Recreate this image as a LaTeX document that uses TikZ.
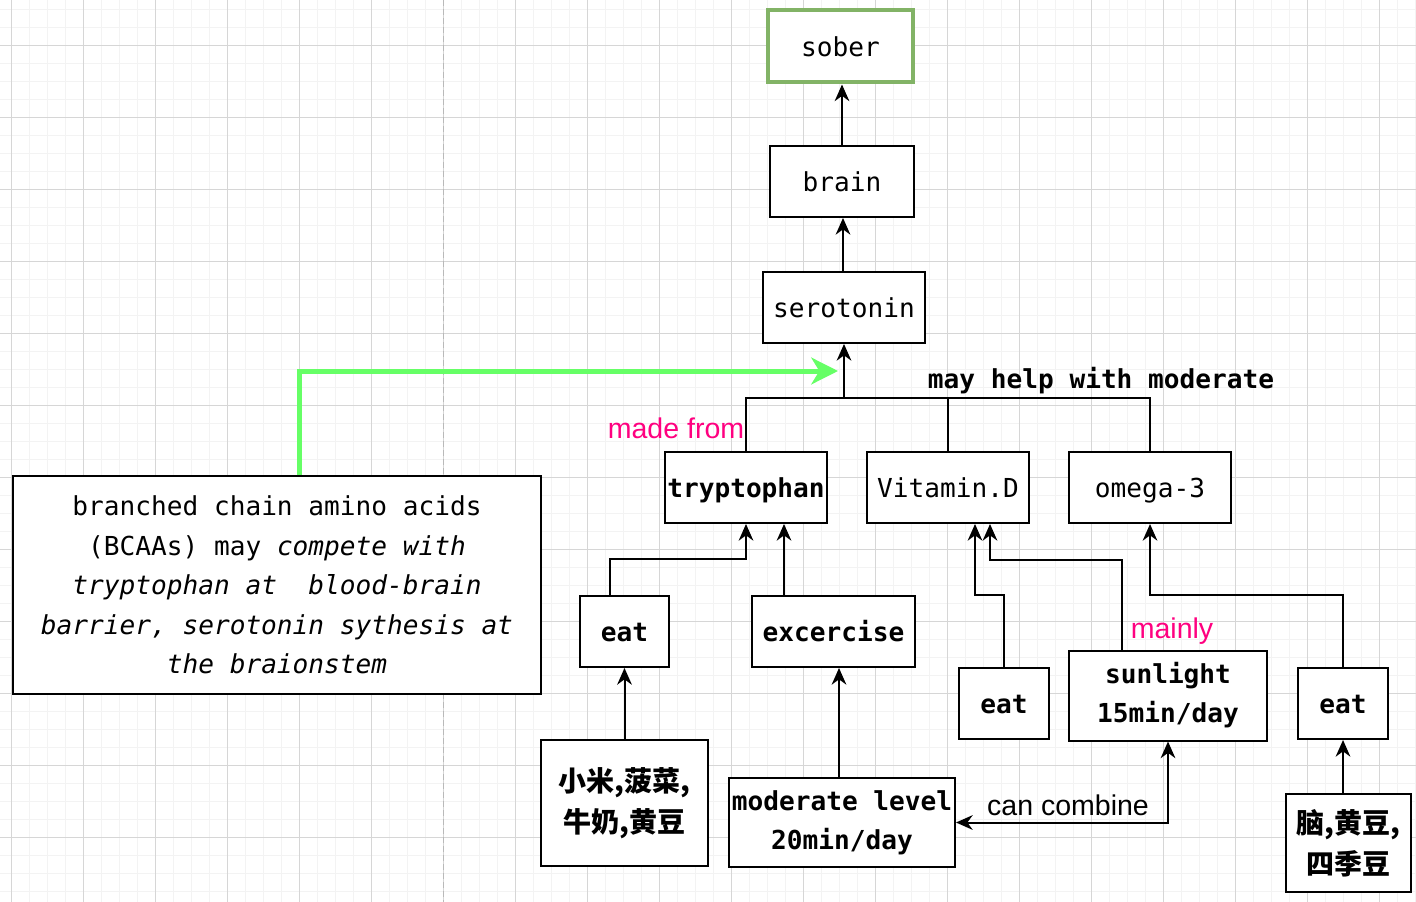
\documentclass[tikz,border=0pt]{standalone}
\usepackage{fontspec}
\setmainfont{Liberation Sans}
\setsansfont{Liberation Sans}
\setmonofont{DejaVu Sans Mono}
\newfontfamily\cjk{Noto Sans CJK SC}
\usetikzlibrary{positioning,calc,arrows.meta}
\definecolor{soberline}{HTML}{82B366}
\definecolor{hint}{HTML}{FF0080}
\definecolor{bright}{HTML}{66FF66}
\definecolor{gridmajor}{HTML}{D6D6D6}
\definecolor{gridminor}{HTML}{F3F3F3}
\newdimen\pix \pix=0.75pt
\tikzset{box/.style={draw, line width=1.5pt, fill=white, inner sep=0pt, align=center,
           font=\ttfamily\fontsize{19.6}{29.6}\selectfont},
         boldbox/.style={box, font=\ttfamily\bfseries\fontsize{19.6}{29.3}\selectfont},
         oneline/.style={text height=17pt, text depth=2.5pt},
         foodbox/.style={box, font=\cjk\bfseries\fontsize{21}{30.75}\selectfont},
         post/.style={-{Stealth[length=12.5pt,width=11pt,inset=4pt]}, line width=1.5pt},
         both/.style={{Stealth[length=12.5pt,width=11pt,inset=4pt]}-{Stealth[length=12.5pt,width=11pt,inset=4pt]}, line width=1.5pt},
         link/.style={line width=1.5pt},
         greenpost/.style={-{Stealth[length=20pt,width=20pt,inset=6pt]}, line width=3.75pt, bright},
         hintlabel/.style={font=\sffamily\fontsize{21.4}{24}\selectfont, text=hint, inner sep=0pt},
         edgelabel/.style={font=\sffamily\fontsize{21.4}{24}\selectfont, inner sep=0pt},
         monolabel/.style={font=\ttfamily\bfseries\fontsize{19.6}{24}\selectfont, inner sep=0pt}
}

\begin{document}
\begin{tikzpicture}[x=0.75pt,y=-0.75pt]
  \useasboundingbox (0,0) rectangle (1416,902);
  \fill[white] (0,0) rectangle (1416,902);
  % grid
  \foreach \gx in {-6.7,11.3,...,1420} \draw[gridminor, line width=0.75pt] (\gx,0) -- (\gx,902);
  \foreach \gy in {9.3,27.3,...,905} \draw[gridminor, line width=0.75pt] (0,\gy) -- (1416,\gy);
  \foreach \gx in {11.3,83.3,...,1420} \draw[gridmajor, line width=0.75pt] (\gx,0) -- (\gx,902);
  \foreach \gy in {45.3,117.3,...,905} \draw[gridmajor, line width=0.75pt] (0,\gy) -- (1416,\gy);
  \draw[gray!55, line width=0.75pt, dash pattern=on 4.5pt off 2.25pt] (443.7,0) -- (443.7,902);

  % boxes
  \node[box, oneline, draw=soberline, line width=3pt, minimum width=145\pix, minimum height=72\pix] (sober) at (840.5,46.5) {sober};
  \node[box, oneline, minimum width=144\pix, minimum height=71\pix] (brain) at (842,181.5) {brain};
  \node[box, oneline, minimum width=162\pix, minimum height=71\pix] (serotonin) at (844,307.5) {serotonin};
  \node[boldbox, oneline, minimum width=162\pix, minimum height=71\pix] (tryptophan) at (746,487.5) {tryptophan};
  \node[box, oneline, minimum width=162\pix, minimum height=71\pix] (vitd) at (948,487.5) {Vitamin.D};
  \node[box, oneline, minimum width=162\pix, minimum height=71\pix] (omega) at (1150,487.5) {omega-3};
  \node[boldbox, oneline, minimum width=89\pix, minimum height=71\pix] (eatA) at (624.5,631.5) {eat};
  \node[boldbox, oneline, minimum width=163\pix, minimum height=71\pix] (exercise) at (833.5,631.5) {excercise};
  \node[boldbox, oneline, minimum width=90\pix, minimum height=71\pix] (eatB) at (1004,703.5) {eat};
  \node[boldbox, minimum width=198\pix, minimum height=90\pix] (sunlight) at (1168,695.5) {sunlight\\15min/day};
  \node[boldbox, oneline, minimum width=90\pix, minimum height=71\pix] (eatC) at (1343,703.5) {eat};
  \node[foodbox, minimum width=167\pix, minimum height=126\pix] (foodA) at (624.5,803) {小米,菠菜,\\牛奶,黄豆};
  \node[boldbox, minimum width=226\pix, minimum height=89\pix] (moderate) at (842,822.5) {moderate level\\20min/day};
  \node[foodbox, minimum width=125\pix, minimum height=98\pix] (foodC) at (1348.5,843) {脑,黄豆,\\四季豆};
  \node[box, minimum width=528\pix, minimum height=218\pix] (bcaa) at (277,585)
    {branched chain amino acids\\(BCAAs) may \textit{compete with}\\\textit{tryptophan at~~blood-brain}\\\textit{barrier, serotonin sythesis at}\\\textit{the braionstem}};

  % connectors
  \draw[post] (brain.north) -- (brain.north |- sober.south);
  \draw[post] ($(serotonin.north)+(-1,0)$) -- ($(brain.south)+(1,0)$);
  \coordinate (hub) at (844,398);
  \draw[post] (hub) -- (serotonin.south);
  \draw[link] (tryptophan.north) |- (hub) -| (omega.north);
  \draw[link] (vitd.north) -- (vitd.north |- hub);
  \draw[post] ($(eatA.north)+(-15,0)$) -- ++(0,-36) -| (tryptophan.south);
  \draw[post] ($(exercise.north)+(-49.5,0)$) -- ($(tryptophan.south)+(38,0)$);
  \draw[post] (eatB.north) -- ++(0,-72) -| ($(vitd.south)+(27,0)$);
  \draw[post] ($(sunlight.north)+(-46,0)$) -- ++(0,-90) -| ($(vitd.south)+(42,0)$);
  \draw[post] (eatC.north) -- ++(0,-72) -| (omega.south);
  \draw[post] (foodA.north) -- (eatA.south);
  \draw[post] ($(moderate.north)+(-3,0)$) -- ($(exercise.south)+(5.5,0)$);
  \draw[post] (eatC.south |- foodC.north) -- (eatC.south);
  \draw[both] (moderate.east) -| (sunlight.south);
  \coordinate (gtip) at (838,371);
  \draw[greenpost] ($(bcaa.north)+(22,0)$) |- (gtip);

  % labels
  \node[monolabel] (helps) at (1101,380.5) {may help with moderate};
  \node[hintlabel] (madefrom) at (676,428) {made from};
  \node[hintlabel] (mainly) at (1172,631) {mainly};
  \node[edgelabel] (combine) at (1068,805) {can combine};
\end{tikzpicture}
\end{document}
